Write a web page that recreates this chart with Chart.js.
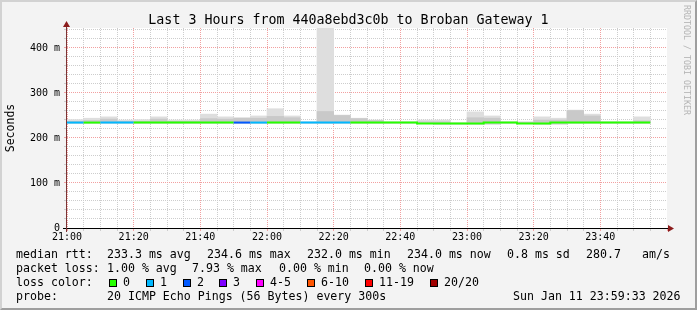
<!DOCTYPE html>
<html>
<head>
<meta charset="utf-8">
<script src="https://cdn.jsdelivr.net/npm/chart.js@4.4.1/dist/chart.umd.min.js"></script>
<style>
  html, body { margin: 0; padding: 0; }
  body { width: 697px; height: 310px; overflow: hidden; position: relative; background: #f3f3f3; font-family: "DejaVu Sans Mono", monospace; color: #000; }
  #frame { position: absolute; left: 0; top: 0; width: 697px; height: 310px; box-sizing: border-box; border: 2px solid; border-color: #d2d2d2 #9e9e9e #9e9e9e #d2d2d2; }
  #chart { position: absolute; left: 0; top: 0; }
  .title { position: absolute; top: 12px; left: 0; width: 697px; text-align: center; font-size: 13.3px; line-height: 15px; white-space: pre; }
  .lg { position: absolute; white-space: pre; font-size: 11.6px; line-height: 14px; }
  .box { position: absolute; width: 8px; height: 8px; box-sizing: border-box; border: 1px solid #000; }
  .mark { position: absolute; left: 692px; top: 5px; transform: rotate(90deg); transform-origin: left top; font-size: 8.3px; line-height: 10px; color: #b4b4b4; white-space: pre; }
</style>
</head>
<body>
<div id="frame"></div>
<canvas id="chart" width="697" height="310"></canvas>
<div class="title">Last 3 Hours from 440a8ebd3c0b to Broban Gateway 1</div>
<div class="mark">RRDTOOL / TOBI OETIKER</div>

<div class="lg" style="left:16px;top:247px">median rtt:</div>
<div class="lg" style="left:107px;top:247px">233.3 ms avg</div>
<div class="lg" style="left:207px;top:247px">234.6 ms max</div>
<div class="lg" style="left:307px;top:247px">232.0 ms min</div>
<div class="lg" style="left:407px;top:247px">234.0 ms now</div>
<div class="lg" style="left:507px;top:247px">0.8 ms sd</div>
<div class="lg" style="left:586px;top:247px">280.7</div>
<div class="lg" style="left:642px;top:247px">am/s</div>

<div class="lg" style="left:16px;top:261px">packet loss:</div>
<div class="lg" style="left:107px;top:261px">1.00 % avg</div>
<div class="lg" style="left:192px;top:261px">7.93 % max</div>
<div class="lg" style="left:279px;top:261px">0.00 % min</div>
<div class="lg" style="left:364px;top:261px">0.00 % now</div>

<div class="lg" style="left:16px;top:275px">loss color:</div>
<div id="lossLegend"></div>

<div class="lg" style="left:16px;top:289px">probe:</div>
<div class="lg" style="left:107px;top:289px">20 ICMP Echo Pings (56 Bytes) every 300s</div>
<div class="lg" style="left:513px;top:289px">Sun Jan 11 23:59:33 2026</div>

<script>
// 5 minute steps, start of each interval
const intervals = [
  '21:00','21:05','21:10','21:15','21:20','21:25','21:30','21:35','21:40','21:45','21:50','21:55',
  '22:00','22:05','22:10','22:15','22:20','22:25','22:30','22:35','22:40','22:45','22:50','22:55',
  '23:00','23:05','23:10','23:15','23:20','23:25','23:30','23:35','23:40','23:45','23:50'
];

// median rtt in ms
const median = [
  234.3, 234.3, 234.3, 234.3, 234.3, 234.3, 234.3, 234.3, 234.3, 234.3, 234.3, 234.3,
  234.3, 234.3, 234.3, 234.3, 234.3, 234.3, 234.3, 234.3, 234.3, 234.3, 232.0, 232.0,
  232.0, 232.0, 234.3, 234.3, 232.0, 232.0, 234.3, 234.3, 234.3, 234.3, 234.3
];

// index into lossLabels / lossColors
const lossLevel = [
  1, 0, 1, 1, 0, 0, 0, 0, 0, 0, 2, 1,
  0, 0, 1, 1, 1, 0, 0, 0, 0, 0, 0, 0,
  0, 0, 0, 0, 0, 0, 0, 0, 0, 0, 0
];

// smoke: low end, dense band top, outer top (ms)
const smokeLow = [
  233, 233, 233, 233, 233, 233, 233, 233, 233, 233, 233, 233,
  233, 233, 233, 233, 233, 233, 233, 233, 233, 233, 231, 231,
  231, 231, 233, 233, 231, 231, 233, 233, 233, 233, 233
];
const smokeMid = [
  237, 239, 242, 237, 237, 242, 237, 237, 243, 242, 244, 244,
  248, 245, 235, 259, 250, 243, 239, 235, 235, 236, 236, 233,
  245, 244, 235, 235, 240, 240, 261, 249, 235, 235, 238
];
const smokeHigh = [
  241, 244, 247, 240, 241, 247, 240, 240, 253, 247, 245, 249,
  265, 249, 236, 444, 251, 244, 240, 236, 236, 240, 240, 234,
  258, 249, 236, 236, 247, 244, 262, 253, 236, 236, 247
];

const lossLabels = ['0', '1', '2', '3', '4-5', '6-10', '11-19', '20/20'];
const lossColors = ['#26ff00', '#00b8ff', '#0059ff', '#7e00ff', '#ff00ff', '#ff5500', '#ff0000', '#a10000'];

const xTickLabels = ['21:00', '21:20', '21:40', '22:00', '22:20', '22:40', '23:00', '23:20', '23:40'];
const yTickLabels = ['0', '100 m', '200 m', '300 m', '400 m'];

const minorGrid = '#cdcdcd';
const majorGrid = '#f2a0a0';

function toMinutes(t) {
  const [h, m] = t.split(':').map(Number);
  return (h - 21) * 60 + m;
}

// loss color legend
const legendBoxX = [109, 146, 183, 219, 256, 307, 365, 430];
const legendEl = document.getElementById('lossLegend');
lossLabels.forEach((label, i) => {
  legendEl.innerHTML += `<div class="box" style="left:${legendBoxX[i]}px;top:279px;background:${lossColors[i]}"></div>` +
    `<div class="lg" style="left:${legendBoxX[i] + 14}px;top:275px">${label}</div>`;
});

const starts = intervals.map(toMinutes);
const stepLen = starts[1] - starts[0];

const plotBackground = {
  id: 'plotBackground',
  beforeDraw(chart) {
    const { ctx, chartArea: a } = chart;
    ctx.save();
    ctx.fillStyle = '#ffffff';
    ctx.fillRect(a.left, a.top, a.right - a.left, a.bottom - a.top);
    ctx.restore();
  }
};

const axisLines = {
  id: 'axisLines',
  afterDraw(chart) {
    const { ctx, chartArea: a } = chart;
    ctx.save();
    ctx.fillStyle = '#000000';
    ctx.fillRect(a.left - 4, a.bottom, a.right - a.left + 6, 1);
    ctx.fillStyle = '#7a3434';
    ctx.fillRect(a.left - 1, a.top - 3, 1, a.bottom - a.top + 7);
    ctx.fillStyle = '#8b1c1c';
    ctx.beginPath();
    ctx.moveTo(a.right + 1, a.bottom - 3);
    ctx.lineTo(a.right + 7, a.bottom + 0.5);
    ctx.lineTo(a.right + 1, a.bottom + 4);
    ctx.closePath();
    ctx.fill();
    ctx.beginPath();
    ctx.moveTo(a.left - 4, a.top - 1);
    ctx.lineTo(a.left - 0.5, a.top - 7);
    ctx.lineTo(a.left + 3, a.top - 1);
    ctx.closePath();
    ctx.fill();
    ctx.restore();
  }
};

Chart.defaults.font.family = '"DejaVu Sans Mono", monospace';
Chart.defaults.color = '#000000';

const medianPoints = starts.map((s, i) => ({ x: s, y: median[i] }));
medianPoints.push({ x: starts[starts.length - 1] + stepLen, y: median[median.length - 1] });

new Chart(document.getElementById('chart'), {
  type: 'line',
  data: {
    datasets: [
      {
        type: 'line',
        data: medianPoints,
        stepped: 'after',
        borderWidth: 2,
        pointRadius: 0,
        borderColor: lossColors[0],
        segment: { borderColor: c => lossColors[lossLevel[c.p0DataIndex]] },
        order: 0
      },
      {
        type: 'bar',
        data: starts.map((s, i) => ({ x: s + stepLen / 2, y: [smokeLow[i], smokeMid[i]] })),
        backgroundColor: '#c9c9c9',
        borderWidth: 0,
        grouped: false,
        barPercentage: 1,
        categoryPercentage: 1,
        order: 1
      },
      {
        type: 'bar',
        data: starts.map((s, i) => ({ x: s + stepLen / 2, y: [smokeLow[i], smokeHigh[i]] })),
        backgroundColor: '#dedede',
        borderWidth: 0,
        grouped: false,
        barPercentage: 1,
        categoryPercentage: 1,
        order: 2
      }
    ]
  },
  options: {
    responsive: false,
    animation: false,
    devicePixelRatio: 1,
    layout: { padding: { top: 28, right: 30, left: 0, bottom: 0 } },
    plugins: { legend: { display: false }, tooltip: { enabled: false } },
    scales: {
      x: {
        type: 'linear',
        min: 0,
        max: 180,
        offset: false,
        afterFit(s) { s.height = 82; },
        ticks: {
          stepSize: 5,
          includeBounds: false,
          autoSkip: false,
          maxRotation: 0,
          minRotation: 0,
          padding: 0,
          font: { size: 10 },
          callback: v => (v % 20 === 0 && v < 180) ? xTickLabels[v / 20] : ''
        },
        grid: {
          offset: false,
          tickLength: 3,
          color: c => c.tick.value >= 180 ? 'rgba(0,0,0,0)' : (c.tick.value % 20 === 0 ? majorGrid : minorGrid),
          tickColor: c => c.tick.value % 20 === 0 ? majorGrid : minorGrid
        },
        border: { display: false, dash: [1, 1] }
      },
      y: {
        type: 'linear',
        min: 0,
        max: 444.4,
        afterFit(s) { s.width = 67; },
        ticks: {
          stepSize: 20,
          includeBounds: false,
          maxTicksLimit: 100,
          autoSkip: false,
          padding: 4,
          font: { size: 10 },
          callback: v => v % 100 === 0 ? yTickLabels[v / 100] : ''
        },
        grid: {
          tickLength: 3,
          color: c => c.tick.value % 100 === 0 ? majorGrid : minorGrid,
          tickColor: c => c.tick.value % 100 === 0 ? majorGrid : minorGrid
        },
        border: { display: false, dash: [1, 1] },
        title: { display: true, text: 'Seconds', font: { size: 11.5 }, padding: { top: 4, bottom: 0 } }
      }
    }
  },
  plugins: [plotBackground, axisLines]
});
</script>
</body>
</html>
